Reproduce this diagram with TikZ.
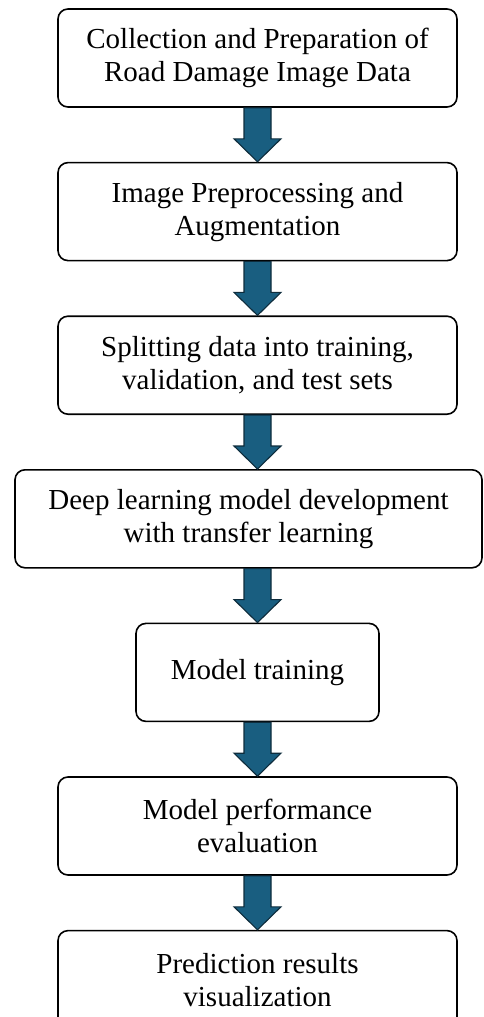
\documentclass[tikz,border=0pt]{standalone}
\usepackage{fontspec}
\setmainfont{Liberation Serif}
\usetikzlibrary{positioning,calc}
\definecolor{arrowblue}{RGB}{25,94,128}
\definecolor{arrowedge}{RGB}{14,44,60}
\tikzset{
  stagebox/.style={
    rectangle, rounded corners=10pt, draw=black, line width=1.6pt, fill=white,
    minimum width=399pt, minimum height=98pt, inner sep=0pt, align=center,
    font=\fontsize{29}{33}\selectfont
  },
  stagearrow/.style={fill=arrowblue, draw=arrowedge, line width=1.1pt, line join=miter}
}
% block arrow from the bottom of #1 to the top of #2, on the main axis
\newcommand{\flowdown}[2]{%
  \draw[stagearrow] ($(axis |- #1.south)+(-13.5,0)$) -- ($(axis |- #1.south)+(13.5,0)$)
    -- ($(axis |- #2.north)+(13.5,23)$) -- ($(axis |- #2.north)+(23.5,23)$)
    -- (axis |- #2.north) -- ($(axis |- #2.north)+(-23.5,23)$)
    -- ($(axis |- #2.north)+(-13.5,23)$) -- cycle;}

\begin{document}
\begin{tikzpicture}[x=1pt, y=1pt, node distance=54pt]
  \useasboundingbox (0,0) rectangle (483,-1017);
  \coordinate (axis) at (257.5,0);

  \node[stagebox] (collect) at (257.5,-58)
    {Collection and Preparation of\\Road Damage Image Data};
  \node[stagebox, below=of collect] (preproc)
    {Image Preprocessing and\\Augmentation};
  \node[stagebox, below=of preproc] (split)
    {Splitting data into training,\\validation, and test sets};
  \node[stagebox, minimum width=467pt, below=of split, xshift=-9pt] (model)
    {Deep learning model development\\with transfer learning};
  \node[stagebox, minimum width=243pt, below=of model, xshift=9pt] (train)
    {Model training};
  \node[stagebox, below=of train] (eval)
    {Model performance\\evaluation};
  \node[stagebox, below=of eval] (predict)
    {Prediction results\\visualization};

  % Arrows
  \flowdown{collect}{preproc}
  \flowdown{preproc}{split}
  \flowdown{split}{model}
  \flowdown{model}{train}
  \flowdown{train}{eval}
  \flowdown{eval}{predict}
\end{tikzpicture}
\end{document}
